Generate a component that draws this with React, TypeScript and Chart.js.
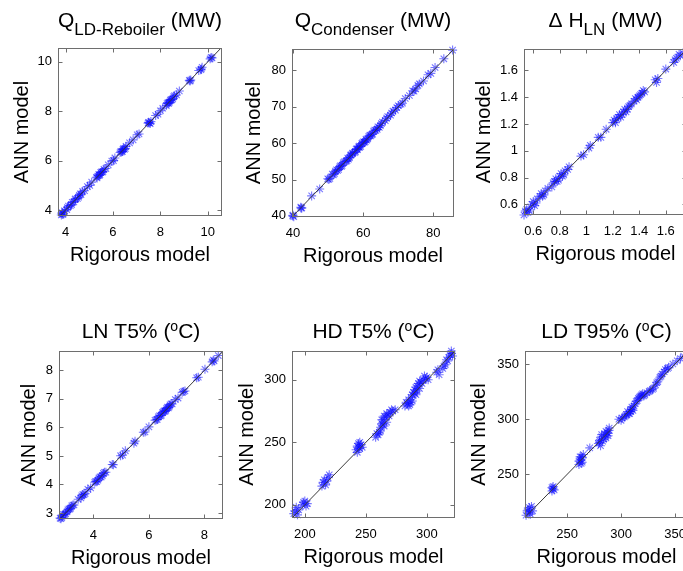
import { useEffect, useRef } from "react";
import { Chart, registerables } from "chart.js";

Chart.register(...registerables);

// ---------------- data ----------------
const reboilerRigorous = [3.82, 3.86, 3.9, 3.95, 4.05, 4.12, 4.2, 4.28, 4.35, 4.42, 4.5, 4.58, 4.65, 4.72, 4.8, 4.92, 5.02, 5.1, 5.3, 5.36, 5.42, 5.48, 5.55, 5.62, 5.7, 5.8, 5.95, 6.02, 6.08, 6.3, 6.36, 6.42, 6.48, 6.55, 6.7, 6.85, 7.02, 7.1, 7.48, 7.54, 7.6, 7.8, 7.9, 8.0, 8.1, 8.25, 8.32, 8.38, 8.45, 8.52, 8.6, 8.68, 8.8, 9.22, 9.28, 9.62, 9.7, 9.76, 10.1, 10.18,
  3.84, 3.88, 4.08, 4.25, 4.4, 4.55, 4.62, 5.33, 5.4, 5.45, 5.52, 5.58, 6.33, 6.4, 6.45, 6.52, 7.5, 7.57, 8.28, 8.35, 8.42, 8.48, 8.56, 9.25, 9.73, 10.14];
const reboilerANN = [3.8, 3.89, 3.84, 3.97, 4.02, 4.16, 4.18, 4.31, 4.33, 4.46, 4.47, 4.6, 4.62, 4.76, 4.78, 4.95, 5.0, 5.13, 5.33, 5.38, 5.4, 5.52, 5.53, 5.65, 5.68, 5.83, 5.98, 6.0, 6.11, 6.33, 6.35, 6.46, 6.45, 6.58, 6.72, 6.84, 7.05, 7.08, 7.52, 7.53, 7.58, 7.83, 7.88, 8.02, 8.12, 8.23, 8.35, 8.37, 8.47, 8.5, 8.63, 8.66, 8.82, 9.25, 9.26, 9.65, 9.68, 9.78, 10.12, 10.16,
  3.87, 3.82, 4.1, 4.22, 4.43, 4.52, 4.66, 5.3, 5.45, 5.43, 5.55, 5.56, 6.38, 6.37, 6.5, 6.49, 7.55, 7.5, 8.31, 8.32, 8.44, 8.46, 8.59, 9.22, 9.71, 10.18];
const reboilerTicks = [4, 6, 8, 10];

const condenserRigorous = [39.9, 40.2, 42.2, 42.5, 45.3, 47.6, 49.9, 50.5, 51.2, 51.8, 52.4, 53.0, 53.5, 54.0, 54.6, 55.1, 55.6, 56.1, 56.6, 57.0, 57.5, 58.0, 58.4, 58.9, 59.3, 59.8, 60.3, 60.8, 61.3, 61.9, 62.4, 63.0, 63.6, 64.2, 64.9, 65.5, 66.3, 67.0, 67.8, 68.5, 69.2, 70.0, 70.8, 72.0, 73.2, 74.1, 75.0, 76.0, 77.2, 78.5, 79.3, 80.5, 83.0, 85.5, 53.8, 54.3, 55.4, 56.4, 57.8, 58.7, 59.6, 60.6, 61.6, 62.7, 63.3, 64.6,
  40.0, 42.3, 50.2, 51.5, 52.1, 52.7, 53.3, 55.8, 56.9, 58.2, 59.0, 60.1, 61.0, 62.1, 64.0, 65.2, 66.7, 68.1, 69.6, 71.2, 74.5, 75.6];
const condenserANN = [40.0, 39.8, 42.4, 42.2, 45.5, 47.4, 50.2, 50.3, 51.5, 51.6, 52.7, 52.8, 53.8, 53.9, 54.9, 55.0, 55.9, 56.0, 56.8, 57.3, 57.4, 58.3, 58.2, 59.2, 59.1, 60.1, 60.2, 61.1, 61.2, 62.2, 62.3, 63.3, 63.5, 64.5, 64.8, 65.8, 66.2, 67.3, 67.7, 68.8, 69.1, 70.3, 70.7, 72.3, 73.1, 74.4, 74.9, 76.3, 77.1, 78.8, 79.2, 80.8, 83.2, 85.6, 53.6, 54.6, 55.2, 56.7, 57.6, 59.0, 59.9, 60.4, 61.9, 62.5, 63.6, 64.3,
  40.2, 42.1, 50.0, 51.3, 52.3, 52.5, 53.5, 55.6, 57.1, 58.5, 58.8, 60.4, 60.8, 62.0, 63.8, 65.4, 66.9, 68.3, 69.8, 71.0, 74.3, 75.9];
const condenserXTicks = [40, 60, 80];
const condenserYTicks = [40, 50, 60, 70, 80];

const dhRigorous = [0.53, 0.55, 0.57, 0.59, 0.61, 0.63, 0.65, 0.67, 0.69, 0.71, 0.74, 0.76, 0.78, 0.8, 0.82, 0.84, 0.87, 0.96, 0.98, 1.02, 1.03, 1.09, 1.11, 1.15, 1.2, 1.22, 1.24, 1.26, 1.28, 1.3, 1.32, 1.34, 1.36, 1.38, 1.4, 1.42, 1.44, 1.52, 1.54, 1.6, 1.66, 1.68, 1.71, 1.73,
  0.54, 0.56, 0.58, 0.6, 0.62, 0.66, 0.68, 0.75, 0.77, 0.79, 0.81, 0.83, 0.86, 1.21, 1.23, 1.25, 1.27, 1.29, 1.31, 1.33, 1.37, 1.39, 1.41, 1.43, 1.53, 1.67, 1.7];
const dhANN = [0.52, 0.56, 0.55, 0.6, 0.59, 0.64, 0.66, 0.66, 0.7, 0.72, 0.73, 0.77, 0.77, 0.81, 0.81, 0.85, 0.88, 0.96, 0.97, 1.02, 1.04, 1.1, 1.1, 1.16, 1.21, 1.21, 1.25, 1.25, 1.29, 1.29, 1.33, 1.35, 1.37, 1.38, 1.41, 1.43, 1.44, 1.53, 1.54, 1.61, 1.66, 1.69, 1.71, 1.73,
  0.55, 0.54, 0.58, 0.62, 0.61, 0.68, 0.67, 0.76, 0.79, 0.78, 0.83, 0.82, 0.86, 1.23, 1.24, 1.27, 1.27, 1.31, 1.31, 1.34, 1.39, 1.4, 1.42, 1.45, 1.51, 1.68, 1.72];
const dhTicks = [0.6, 0.8, 1, 1.2, 1.4, 1.6];

const lnRigorous = [2.8, 2.86, 2.92, 3.0, 3.08, 3.15, 3.22, 3.3, 3.45, 3.55, 3.62, 3.7, 3.8, 3.9, 4.05, 4.12, 4.2, 4.28, 4.36, 4.45, 4.68, 4.72, 4.98, 5.05, 5.15, 5.46, 5.5, 5.8, 5.86, 6.0, 6.22, 6.3, 6.38, 6.45, 6.52, 6.58, 6.64, 6.7, 6.76, 6.84, 6.95, 7.05, 7.2, 7.3, 7.72, 7.78, 8.02, 8.28, 8.35, 8.5,
  2.83, 2.89, 2.97, 3.05, 3.12, 3.18, 3.26, 3.58, 3.66, 4.08, 4.16, 4.24, 4.32, 4.4, 6.26, 6.34, 6.42, 6.49, 6.55, 6.61, 6.67, 6.73, 6.8, 7.25, 8.32];
const lnANN = [2.82, 2.84, 2.95, 2.98, 3.11, 3.13, 3.25, 3.28, 3.48, 3.53, 3.65, 3.68, 3.83, 3.88, 4.08, 4.1, 4.23, 4.26, 4.39, 4.43, 4.7, 4.69, 5.01, 5.03, 5.18, 5.45, 5.52, 5.83, 5.84, 6.02, 6.25, 6.28, 6.41, 6.43, 6.55, 6.56, 6.67, 6.68, 6.79, 6.82, 6.98, 7.03, 7.23, 7.28, 7.74, 7.76, 8.04, 8.3, 8.33, 8.52,
  2.8, 2.91, 2.95, 3.04, 3.15, 3.17, 3.28, 3.6, 3.64, 4.11, 4.15, 4.27, 4.31, 4.43, 6.27, 6.37, 6.4, 6.52, 6.58, 6.6, 6.71, 6.72, 6.83, 7.26, 8.36];
const lnXTicks = [4, 6, 8];
const lnYTicks = [3, 4, 5, 6, 7, 8];

const hdRigorous = [191, 193, 195, 198, 200, 202, 214, 215, 217, 219, 220, 242, 243, 244, 245, 246, 258, 260, 261, 262, 263, 264, 265, 266, 267, 268, 270, 272, 274, 282, 284, 285, 286, 287, 288, 289, 290, 291, 292, 293, 294, 295, 297, 299, 301, 308, 310, 313, 315, 317, 318, 320, 321,
  192, 194, 199, 201, 216, 218, 243, 244, 245, 247, 259, 262, 263, 264, 265, 267, 269, 271, 283, 285, 287, 288, 290, 291, 292, 294, 296, 298, 300, 309, 314, 316, 319, 320];
const hdANN = [193, 198, 196, 200, 203, 201, 215, 218, 216, 222, 224, 244, 247, 249, 245, 248, 254, 256, 258, 262, 265, 268, 263, 270, 266, 272, 274, 275, 276, 279, 281, 284, 280, 286, 283, 290, 292, 288, 295, 297, 293, 298, 300, 301, 300, 306, 304, 309, 312, 315, 318, 321, 319,
  195, 192, 202, 199, 220, 219, 242, 246, 250, 246, 257, 259, 268, 264, 271, 273, 271, 276, 282, 279, 282, 288, 289, 294, 291, 299, 297, 303, 302, 308, 311, 316, 320, 323];
const hdXTicks = [200, 250, 300];
const hdYTicks = [200, 250, 300];

const ldRigorous = [212, 214, 215, 217, 218, 236, 237, 238, 261, 262, 263, 264, 265, 271, 279, 280, 281, 282, 283, 285, 286, 287, 288, 289, 298, 300, 303, 305, 306, 308, 309, 310, 311, 313, 315, 317, 319, 321, 324, 327, 330, 332, 334, 336, 338, 341, 344, 348, 352, 355, 358,
  213, 215, 216, 237, 236, 261, 262, 263, 264, 280, 282, 284, 286, 288, 289, 301, 304, 307, 309, 310, 312, 314, 316, 318, 320, 322, 326, 329, 333, 337, 340, 343];
const ldANN = [213, 218, 215, 221, 217, 235, 239, 236, 259, 263, 266, 261, 268, 274, 278, 281, 276, 284, 280, 286, 283, 288, 285, 290, 300, 299, 302, 304, 307, 305, 309, 311, 308, 314, 317, 320, 322, 321, 324, 326, 328, 331, 334, 338, 341, 345, 347, 350, 353, 355, 357,
  217, 220, 214, 237, 238, 262, 266, 260, 265, 279, 286, 282, 289, 287, 292, 301, 303, 305, 307, 309, 312, 316, 319, 321, 323, 322, 325, 327, 333, 339, 343, 346];
const ldXTicks = [250, 300, 350];
const ldYTicks = [250, 300, 350];

const xAxisLabel = "Rigorous model";
const yAxisLabel = "ANN model";

// ---------------- layout / style ----------------
type Seg = { t: string; k?: "sub" | "sup" };
const FONT = "'Liberation Sans', Arial, Helvetica, sans-serif";
const PAD_L = 60;
const PAD_T = 50;
const PAD_R = 20;
const PAD_B = 55;

interface Panel {
  title: Seg[];
  xs: number[];
  ys: number[];
  xRange: [number, number];
  yRange: [number, number];
  xTicks: number[];
  yTicks: number[];
  L: number;
  T: number;
  W: number;
  H: number;
  titleOff: number;
  yTitleOff: number;
}

const panels: Panel[] = [
  { title: [{ t: "Q" }, { t: "LD-Reboiler", k: "sub" }, { t: " (MW)" }], xs: reboilerRigorous, ys: reboilerANN, xRange: [3.68, 10.6], yRange: [3.76, 10.56], xTicks: reboilerTicks, yTicks: reboilerTicks, L: 58, T: 48, W: 164, H: 168, titleOff: 21, yTitleOff: 36 },
  { title: [{ t: "Q" }, { t: "Condenser", k: "sub" }, { t: " (MW)" }], xs: condenserRigorous, ys: condenserANN, xRange: [39.7, 85.9], yRange: [39.7, 85.9], xTicks: condenserXTicks, yTicks: condenserYTicks, L: 292, T: 49, W: 162, H: 168, titleOff: 22, yTitleOff: 38 },
  { title: [{ t: "\u0394 H" }, { t: "LN", k: "sub" }, { t: " (MW)" }], xs: dhRigorous, ys: dhANN, xRange: [0.53, 1.76], yRange: [0.52, 1.76], xTicks: dhTicks, yTicks: dhTicks, L: 524, T: 49, W: 163, H: 166, titleOff: 22, yTitleOff: 40 },
  { title: [{ t: "LN T5% (" }, { t: "o", k: "sup" }, { t: "C)" }], xs: lnRigorous, ys: lnANN, xRange: [2.76, 8.67], yRange: [2.79, 8.68], xTicks: lnXTicks, yTicks: lnYTicks, L: 59, T: 351, W: 164, H: 168, titleOff: 13, yTitleOff: 30 },
  { title: [{ t: "HD T5% (" }, { t: "o", k: "sup" }, { t: "C)" }], xs: hdRigorous, ys: hdANN, xRange: [189.5, 323], yRange: [189.5, 323], xTicks: hdXTicks, yTicks: hdYTicks, L: 292, T: 351, W: 163, H: 167, titleOff: 13, yTitleOff: 44.5 },
  { title: [{ t: "LD T95% (" }, { t: "o", k: "sup" }, { t: "C)" }], xs: ldRigorous, ys: ldANN, xRange: [211, 362], yRange: [210.5, 361.8], xTicks: ldXTicks, yTicks: ldYTicks, L: 525, T: 351, W: 163, H: 167, titleOff: 13, yTitleOff: 46 },
];

const segFont = (k?: string) =>
  k === "sub" ? `17px ${FONT}` : k === "sup" ? `14px ${FONT}` : `21px ${FONT}`;
const segDy = (k?: string) => (k === "sub" ? 7.5 : k === "sup" ? -7 : 0);

function makeDecor(p: Panel) {
  return {
    id: "decor",
    afterDraw(chart: any) {
      const { ctx, chartArea } = chart;
      const xs = chart.scales.x;
      const ys = chart.scales.y;
      const l = Math.round(chartArea.left) + 0.5;
      const t = Math.round(chartArea.top) + 0.5;
      const r = Math.round(chartArea.right) - 0.5;
      const b = Math.round(chartArea.bottom) - 0.5;
      ctx.save();
      ctx.strokeStyle = "#6e6e6e";
      ctx.lineWidth = 1;
      ctx.strokeRect(l, t, r - l, b - t);
      ctx.beginPath();
      const tl = 4;
      for (const tk of xs.ticks) {
        const px = Math.round(xs.getPixelForValue(tk.value)) + 0.5;
        ctx.moveTo(px, b);
        ctx.lineTo(px, b - tl);
        ctx.moveTo(px, t);
        ctx.lineTo(px, t + tl);
      }
      for (const tk of ys.ticks) {
        const py = Math.round(ys.getPixelForValue(tk.value)) + 0.5;
        ctx.moveTo(l, py);
        ctx.lineTo(l + tl, py);
        ctx.moveTo(r, py);
        ctx.lineTo(r - tl, py);
      }
      ctx.stroke();

      // title with sub/superscripts
      ctx.fillStyle = "#000";
      ctx.textBaseline = "alphabetic";
      ctx.textAlign = "left";
      let total = 0;
      const widths = p.title.map((s) => {
        ctx.font = segFont(s.k);
        const w = ctx.measureText(s.t).width;
        total += w;
        return w;
      });
      const cx = (chartArea.left + chartArea.right) / 2;
      let x = cx - total / 2;
      const baseY = chartArea.top - p.titleOff;
      p.title.forEach((s, i) => {
        ctx.font = segFont(s.k);
        ctx.fillText(s.t, x, baseY + segDy(s.k));
        x += widths[i];
      });

      // axis titles
      ctx.font = `20px ${FONT}`;
      ctx.textAlign = "center";
      ctx.textBaseline = "middle";
      ctx.fillText(xAxisLabel, cx, chartArea.bottom + 39);
      ctx.translate(chartArea.left - p.yTitleOff, (chartArea.top + chartArea.bottom) / 2);
      ctx.rotate(-Math.PI / 2);
      ctx.fillText(yAxisLabel, 0, 0);
      ctx.restore();
    },
  };
}

function PanelChart({ p }: { p: Panel }) {
  const ref = useRef<HTMLCanvasElement>(null);
  const cw = p.W + PAD_L + PAD_R;
  const ch = p.H + PAD_T + PAD_B;
  useEffect(() => {
    if (!ref.current) return;
    const n = Math.min(p.xs.length, p.ys.length);
    const pts = [];
    for (let i = 0; i < n; i++) pts.push({ x: p.xs[i], y: p.ys[i] });
    const lo = Math.max(p.xRange[0], p.yRange[0]);
    const hi = Math.min(p.xRange[1], p.yRange[1]);
    const tickFont = { family: FONT, size: 13 };
    const chart = new Chart(ref.current, {
      type: "scatter",
      data: {
        datasets: [
          {
            type: "line",
            data: [
              { x: lo, y: lo },
              { x: hi, y: hi },
            ],
            borderColor: "#3a3a3a",
            borderWidth: 1,
            pointRadius: 0,
            order: 0,
          } as any,
          {
            type: "scatter",
            data: pts,
            pointStyle: "star",
            pointRadius: 4.5,
            pointBorderWidth: 1.1,
            borderColor: "rgba(10,10,255,0.55)",
            backgroundColor: "rgba(10,10,255,0.55)",
            order: 1,
            clip: false,
          } as any,
        ],
      },
      options: {
        responsive: false,
        animation: false,
        devicePixelRatio: 1,
        layout: { padding: { left: 0, top: PAD_T, right: PAD_R, bottom: 0 } },
        plugins: { legend: { display: false }, tooltip: { enabled: false } },
        events: [],
        scales: {
          x: {
            type: "linear",
            min: p.xRange[0],
            max: p.xRange[1],
            afterBuildTicks: (s: any) => {
              s.ticks = p.xTicks.map((v) => ({ value: v }));
            },
            afterFit: (s: any) => {
              s.height = PAD_B;
            },
            grid: { display: false, drawTicks: false, tickLength: 0 },
            border: { display: false },
            ticks: {
              font: tickFont,
              color: "#000",
              padding: 9,
              maxRotation: 0,
              autoSkip: false,
              callback: (v: any) => String(v),
            },
          },
          y: {
            type: "linear",
            min: p.yRange[0],
            max: p.yRange[1],
            afterBuildTicks: (s: any) => {
              s.ticks = p.yTicks.map((v) => ({ value: v }));
            },
            afterFit: (s: any) => {
              s.width = PAD_L;
            },
            grid: { display: false, drawTicks: false, tickLength: 0 },
            border: { display: false },
            ticks: {
              font: tickFont,
              color: "#000",
              padding: 6,
              autoSkip: false,
              callback: (v: any) => String(v),
            },
          },
        },
      },
      plugins: [makeDecor(p)],
    });
    return () => chart.destroy();
  }, [p]);
  return (
    <canvas
      ref={ref}
      width={cw}
      height={ch}
      style={{
        position: "absolute",
        left: p.L - PAD_L,
        top: p.T - PAD_T,
        width: cw,
        height: ch,
      }}
    />
  );
}

export default function App() {
  return (
    <div
      style={{
        position: "fixed",
        left: 0,
        top: 0,
        width: 683,
        height: 571,
        overflow: "hidden",
        background: "#fff",
      }}
    >
      {panels.map((p, i) => (
        <PanelChart key={i} p={p} />
      ))}
    </div>
  );
}
